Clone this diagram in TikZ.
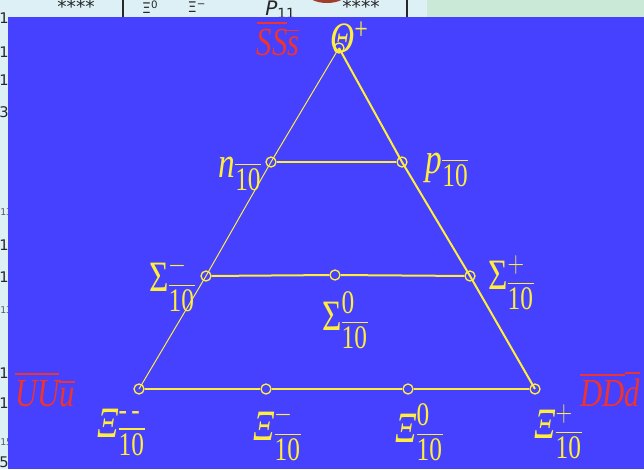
\documentclass[tikz,border=0pt]{standalone}
\usepackage{amsmath}
\usepackage{graphicx}
\usepackage{fontspec}
\setmainfont{Liberation Serif}
\newfontfamily\tabfont{DejaVu Sans}
\DeclareMathSizes{25}{25}{19}{14}
\DeclareMathSizes{23}{23}{17}{12}
\tikzstyle{pt} = [circle, draw={rgb, 255:red, 255; green, 238; blue, 60 }, line width=1pt, inner sep=0pt, minimum size=7.5pt]
\tikzstyle{edge} = [color={rgb, 255:red, 255; green, 238; blue, 60 }, line width=1.5pt]
\tikzstyle{thinedge} = [color={rgb, 255:red, 255; green, 238; blue, 60 }, line width=0.75pt]
\tikzstyle{hadron} = [color={rgb, 255:red, 255; green, 238; blue, 60 }, inner sep=0pt, font=\fontsize{25}{29}\selectfont]
\tikzstyle{quark} = [color={rgb, 255:red, 238; green, 52; blue, 48 }, inner sep=0pt, font=\fontsize{23}{26}\selectfont]
\tikzstyle{tab} = [color={rgb, 255:red, 40; green, 40; blue, 40 }, inner sep=0pt, font=\tabfont\fontsize{11}{13}\selectfont]
\newcommand{\tall}[1]{\scalebox{1}[1.3]{#1}}

\begin{document}
\begin{tikzpicture}[x=0.75pt,y=0.75pt,yscale=-1,xscale=1]
\useasboundingbox (0,0) rectangle (644,469);
\clip (0,0) rectangle (644,469);

%Shape: Rectangle [id:page]
\fill [color={rgb, 255:red, 221; green, 240; blue, 246 }] (0,0) rectangle (644,469);
\fill [color={rgb, 255:red, 202; green, 233; blue, 214 }] (427,0) rectangle (644,17);
%Shape: Ellipse [id:logo]
\fill [color={rgb, 255:red, 160; green, 62; blue, 42 }] (327,-8) ellipse (21 and 11);
%Straight Lines [id:rules]
\draw [color={rgb, 255:red, 40; green, 40; blue, 40 }, line width=1.2pt] (123,0) -- (123,17);
\draw [color={rgb, 255:red, 40; green, 40; blue, 40 }, line width=1.2pt] (407,0) -- (407,17);

% Text Node
\draw (76,7) node (st1) [tab, font=\tabfont\fontsize{14}{14}\selectfont] {****};
\draw (150,7) node (xz) [tab] {Ξ\textsuperscript{0}};
\draw (197,7) node (xm) [tab] {Ξ\textsuperscript{−}};
\draw (265,19) node (pw) [tab, anchor=south west, font=\tabfont\itshape\fontsize{15}{17}\selectfont] {P\textsubscript{\upshape 11}};
\draw (361,7) node (st2) [tab, font=\tabfont\fontsize{14}{14}\selectfont] {****};
% Text Node
\foreach \yy/\dd in {18/1, 52/1, 80/1, 112/3, 245/1, 277/1, 373/1, 403/1, 462/5}
  \draw (9,\yy) node [tab, anchor=east] {\dd};
\foreach \yy/\dd in {212/13, 310/13, 442/15}
  \draw (0,\yy) node [tab, anchor=west, color={rgb, 255:red, 90; green, 90; blue, 90 }, font=\tabfont\fontsize{7}{8}\selectfont] {\dd};

%Shape: Rectangle [id:panel]
\fill [color={rgb, 255:red, 70; green, 64; blue, 255 }] (8,17) rectangle (644,469);

% Weight points
\draw (339,48) node (theta) [pt] {};
\draw (271,162) node (n) [pt] {};
\draw (402,162) node (p) [pt] {};
\draw (206,276) node (sigm) [pt] {};
\draw (335,275) node (sigz) [pt] {};
\draw (470,276) node (sigp) [pt] {};
\draw (139,389) node (xmm) [pt] {};
\draw (266,389) node (xim) [pt] {};
\draw (408,389) node (xiz) [pt] {};
\draw (535,389) node (xip) [pt] {};

%Straight Lines
\draw [thinedge] (theta.center) -- (n.center) -- (sigm.center) -- (xmm.center);
\draw [edge] (theta.center) -- (p.center) -- (sigp.center) -- (xip.center);
\draw [edge] (n) -- (p);
\draw [edge] (sigm) -- (sigz) -- (sigp);
\draw [edge] (xmm) -- (xim) -- (xiz) -- (xip);

% Text Node
\draw (349,37) node (ltheta) [hadron] {\tall{\itshape Θ\raisebox{0.3em}{\upshape\fontsize{18}{18}\selectfont +}}};
\draw (240,174) node (ln) [hadron] {\tall{$\text{\itshape n}_{\overline{\text{10}}}$}};
\draw (447,170) node (lp) [hadron] {\tall{$\text{\itshape p}_{\overline{\text{10}}}$}};
\draw (172,284) node (lsigm) [hadron] {\tall{$\text{Σ}^{-}_{\overline{\text{10}}}$}};
\draw (345,320) node (lsigz) [hadron] {\tall{$\text{Σ}^{\text{0}}_{\overline{\text{10}}}$}};
\draw (511,283) node (lsigp) [hadron] {\tall{$\text{Σ}^{+}_{\overline{\text{10}}}$}};
\draw (121,432) node (lxmm) [hadron] {\tall{$\text{\itshape Ξ}^{\text{-\,-}}_{\overline{\text{10}}}$}};
\draw (277,433) node (lxim) [hadron] {\tall{$\text{\itshape Ξ}^{-}_{\overline{\text{10}}}$}};
\draw (419,432) node (lxiz) [hadron] {\tall{$\text{\itshape Ξ}^{\text{0}}_{\overline{\text{10}}}$}};
\draw (558,432) node (lxip) [hadron] {\tall{$\text{\itshape Ξ}^{+}_{\overline{\text{10}}}$}};
% Text Node
\draw (278,38) node (lsss) [quark] {\tall{$\overline{\textit{S}}\overline{\textit{S}}\overline{\textit{s}}$}};
\draw (45,389) node (luuu) [quark] {\tall{$\overline{\textit{U}}\overline{\textit{U}}\overline{\textit{u}}$}};
\draw (580,389) node (lddd) [quark, anchor=west] {\tall{$\overline{\textit{D}}\overline{\textit{D}}\overline{\textit{d}}$}};

\end{tikzpicture}
\end{document}
